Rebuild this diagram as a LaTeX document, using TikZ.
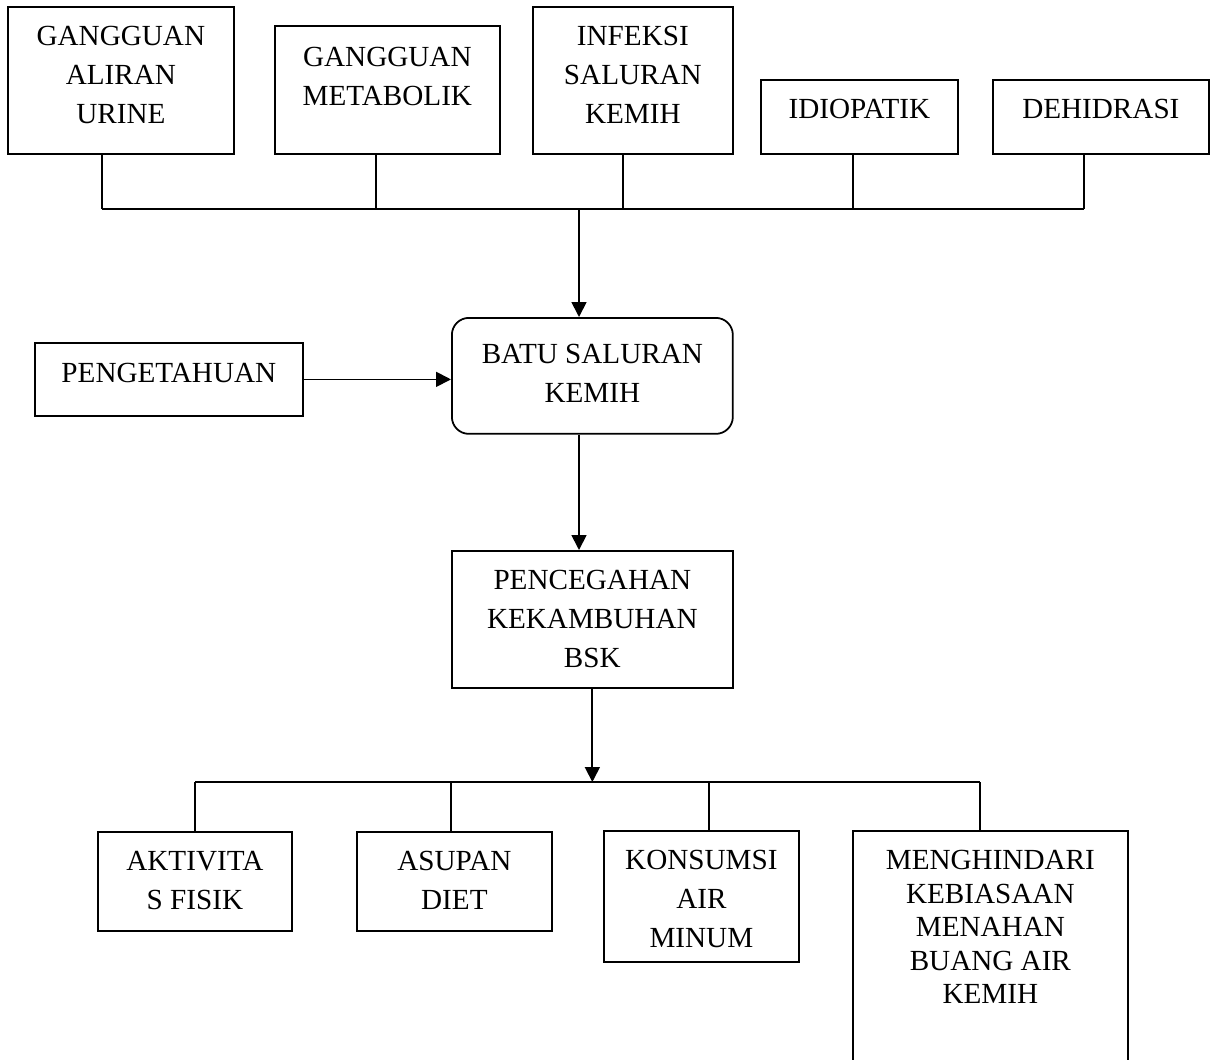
\documentclass[tikz,border=0pt]{standalone}
\usepackage{fontspec}
\setmainfont{Liberation Serif}
\usetikzlibrary{arrows.meta}

\begin{document}
\begin{tikzpicture}[
    x=0.02cm, y=-0.02cm,
    box/.style={draw, line width=1pt, inner sep=0pt, anchor=north west,
        align=center, font=\fontsize{16.6}{22.2}\selectfont},
    rbox/.style={box, rounded corners=0.34cm},
    link/.style={line width=1pt},
    flow/.style={-{Triangle[length=3mm, width=3mm]}, line width=1pt},
]
\useasboundingbox (0,0) rectangle (1216,1059);

% penyebab
\node[box, minimum width=4.52cm, text height=2.34cm, text depth=0.60cm] (aliran) at (7,6)
    {GANGGUAN\\ALIRAN\\URINE};
\node[box, minimum width=4.50cm, text height=1.60cm, text depth=0.96cm] (metabolik) at (274,25)
    {GANGGUAN\\METABOLIK};
\node[box, minimum width=4.00cm, text height=2.34cm, text depth=0.60cm] (infeksi) at (532,6)
    {INFEKSI\\SALURAN\\KEMIH};
\node[box, minimum width=3.94cm, text height=0.78cm, text depth=0.70cm] (idiopatik) at (760,79)
    {IDIOPATIK};
\node[box, minimum width=4.32cm, text height=0.78cm, text depth=0.70cm] (dehidrasi) at (992,79)
    {DEHIDRASI};

\node[box, minimum width=5.36cm, text height=0.80cm, text depth=0.66cm] (peng) at (34,342)
    {PENGETAHUAN};
\node[rbox, minimum width=5.62cm, text height=1.70cm, text depth=0.62cm] (batu) at (451,317)
    {BATU SALURAN\\KEMIH};
\node[box, minimum width=5.62cm, text height=2.34cm, text depth=0.40cm] (penc) at (451,550)
    {PENCEGAHAN\\KEKAMBUHAN\\BSK};

% pencegahan
\node[box, minimum width=3.88cm, text height=1.56cm, text depth=0.42cm] (aktivitas) at (97,831)
    {AKTIVITA\\S FISIK};
\node[box, minimum width=3.90cm, text height=1.56cm, text depth=0.42cm] (asupan) at (356,831)
    {ASUPAN\\DIET};
\node[box, minimum width=3.90cm, text height=2.34cm, text depth=0.28cm] (konsumsi) at (603,830)
    {KONSUMSI\\AIR\\MINUM};
\node[box, minimum width=5.50cm, text height=3.46cm, text depth=1.54cm,
      font=\fontsize{16.6}{19.1}\selectfont] (menahan) at (852,830)
    {MENGHINDARI\\KEBIASAAN\\MENAHAN\\BUANG AIR\\KEMIH};

\coordinate (a0) at (579,209);
\coordinate (a1) at (102,209);
\coordinate (a2) at (376,209);
\coordinate (a3) at (623,209);
\coordinate (a4) at (853,209);
\coordinate (a5) at (1084,209);
\coordinate (b1) at (195,782);
\coordinate (b2) at (451,782);
\coordinate (b3) at (709,782);
\coordinate (b4) at (980,782);

\foreach \n/\c in {aliran/a1, metabolik/a2, infeksi/a3, idiopatik/a4, dehidrasi/a5}
    \draw[link] (\n.south -| \c) -- (\c);
\draw[link] (a1) -- (a5);
\draw[flow] (a0) -- (a0 |- batu.north);
\draw[flow] (peng.east) -- (peng.east -| batu.west);
\draw[flow] (a0 |- batu.south) -- (a0 |- penc.north);
\draw[flow] (penc.south) -- (penc.south |- b1);

\draw[link] (b1) -- (b4);
\foreach \n/\c in {aktivitas/b1, asupan/b2, konsumsi/b3, menahan/b4}
    \draw[link] (\c) -- (\c |- \n.north);

\end{tikzpicture}
\end{document}
